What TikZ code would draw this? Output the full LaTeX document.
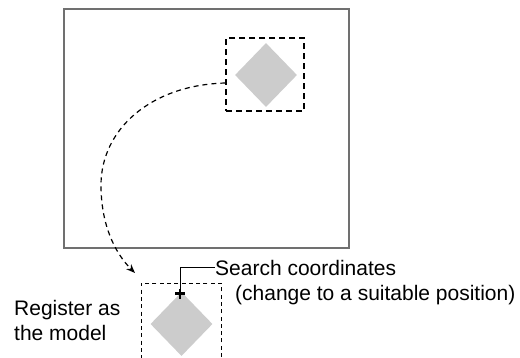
\documentclass[tikz,border=0pt]{standalone}
\usepackage{fontspec}
\setmainfont{Liberation Sans}
\usetikzlibrary{shapes.geometric,arrows.meta}
\definecolor{framegray}{RGB}{112,112,112}
\definecolor{partgray}{RGB}{204,204,204}
\begin{document}
\begin{tikzpicture}[x=1pt,y=-1pt,
  labeltext/.style={font=\fontsize{21}{25}\selectfont, inner sep=0pt, align=left},
  workpiece/.style={diamond, fill=partgray, draw=none, inner sep=0pt,
    minimum width=62pt, minimum height=64pt},
  searchbox/.style={draw, dash pattern=on 6pt off 4pt, line width=1.3pt,
    inner sep=0pt},
  modelbox/.style={draw, dash pattern=on 4pt off 3.3pt, line width=0.9pt,
    inner sep=0pt},
  transfer/.style={dash pattern=on 5pt off 4pt, line width=1.2pt,
    -{Stealth[length=9pt,width=7pt]}}]
\useasboundingbox (0,0) rectangle (520,357);
\clip (0,0) rectangle (520,357);

% camera field of view
\draw[framegray, line width=2pt] (64,9) rectangle (349,248);

% part found in the image, with its search window
\node[workpiece] (partA) at (266,75) {};
\node[searchbox, minimum width=78pt, minimum height=73pt] (searchA) at (265,74.5) {};

% registered model and its window
\node[workpiece] (partB) at (181.5,324) {};
\node[modelbox, minimum width=80pt, minimum height=140pt] (modelbox) at (181,353) {};

% transfer of the part to the model
\coordinate (arrowtip) at (135,273);
\draw[transfer] ([yshift=-8.5pt]searchA.west)
  .. controls (150,85) and (101,130) .. (101,185)
  .. controls (101,225) and (115,253) .. (arrowtip);

% search coordinates marker
\coordinate (searchpt) at (180,293.5);
\draw[line width=2.3pt] ([xshift=-5pt]searchpt) -- ([xshift=5pt]searchpt);
\draw[line width=2.3pt] ([yshift=-5pt]searchpt) -- ([yshift=5pt]searchpt);

% labels
\node[labeltext, anchor=base west] (searchtext) at (215,275) {Search coordinates};
\node[labeltext, anchor=base west] (changetext) at (235,300) {(change to a suitable position)};
\node[labeltext, anchor=north west] (registertext) at (14,300) {Register as\\the model};

\draw[line width=1pt] ([yshift=5pt]searchpt) |- (searchtext.west);
\end{tikzpicture}
\end{document}
